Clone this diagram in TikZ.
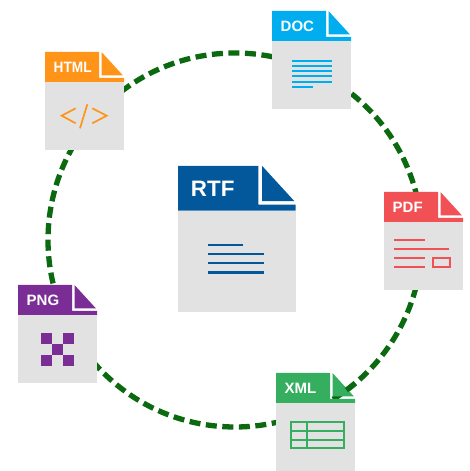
\documentclass[tikz,border=0pt]{standalone}
\usepackage{fontspec}
\setmainfont{Liberation Sans}
\definecolor{ringgreen}{HTML}{0B6A10}
\definecolor{bodygray}{HTML}{E2E2E2}
\definecolor{rtfblue}{HTML}{03589C}
\definecolor{docblue}{HTML}{00AEEF}
\definecolor{pdfred}{HTML}{F15055}
\definecolor{xmlgreen}{HTML}{36AE5F}
\definecolor{pngpurple}{HTML}{7B2D96}
\definecolor{htmlorange}{HTML}{FF9419}
\tikzset{
    x=1pt, y=1pt,
    ring/.style={ringgreen, line width=5.3pt, dash pattern=on 11pt off 5.55pt, dash phase=8.55pt},
    pics/fileicon/.style n args={2}{code={
        \fill[bodygray] (0,-30) rectangle (79,-98);
        \fill[#1] (0,0) -- (54,0) -- (54,-26) -- (79,-26) -- (79,-30) -- (0,-30) -- cycle;
        \fill[#1] (56.5,0) -- (56.5,-23.5) -- (78,-23.5) -- cycle;
        \node[anchor=west, inner sep=0pt, text=white, font=\fontsize{15}{15}\selectfont\bfseries, transform shape] (label) at (8.5,-15) {#2};
    }}
}
\begin{document}
\begin{tikzpicture}
    \useasboundingbox (0,0) rectangle (470,471);
    % Draw the ring
    \coordinate (center) at (235,231);
    \draw[ring] (center) circle (187);
    % Draw the files
    \pic (rtf) [scale=1.49, transform shape] at (178,305) {fileicon={rtfblue}{RTF}};
    \pic (doc) at (272,460) {fileicon={docblue}{DOC}};
    \pic (pdf) at (384,279) {fileicon={pdfred}{PDF}};
    \pic (xml) at (276,98) {fileicon={xmlgreen}{XML}};
    \pic (png) at (18,186) {fileicon={pngpurple}{PNG}};
    \pic (html) at (45,419) {fileicon={htmlorange}{\scalebox{.91}[1]{HTML}}};
    % Dash lying over the XML corner
    \draw[ringgreen, line width=5.3pt] ([shift=(-53.4:187)]center) arc (-53.4:-50:187);
    % RTF text lines
    \foreach \y/\e in {226/243,217/264,208/264,198.5/264} {
            \draw[rtfblue, line width=2.2pt] (208,\y) -- (\e,\y);
        }
    % DOC text lines
    \foreach \y/\e in {410.3/332,405/332,400/332,394.7/332,389.3/332,384/313} {
            \draw[docblue, line width=2pt] (292,\y) -- (\e,\y);
        }
    % PDF text lines and box
    \foreach \y/\e in {231/425,221.5/449,212.5/425,203.5/425} {
            \draw[pdfred, line width=2pt] (394,\y) -- (\e,\y);
        }
    \draw[pdfred, line width=2pt] (433,203.5) rectangle (450,212.5);
    % XML table
    \draw[xmlgreen, line width=2.3pt] (291,22.7) rectangle (344.3,49.3);
    \draw[xmlgreen, line width=2.3pt] (306.7,22.7) -- (306.7,49.3);
    \foreach \y in {31.3,40.3} {
            \draw[xmlgreen, line width=2.3pt] (291,\y) -- (344.3,\y);
        }
    % PNG checker
    \foreach \i/\j in {0/0,2/0,1/1,0/2,2/2} {
            \fill[pngpurple] ({40.7+11*\i},{138.3-11*\j}) rectangle +(11,-11);
        }
    % HTML tag
    \draw[htmlorange, line width=1.7pt] (75.7,362.7) -- (61.7,355.3) -- (75.7,347.7);
    \draw[htmlorange, line width=1.7pt] (92.3,362.7) -- (106.7,355.3) -- (92.3,347.7);
    \draw[htmlorange, line width=1.7pt] (87.3,366.7) -- (80,342.7);
\end{tikzpicture}
\end{document}
